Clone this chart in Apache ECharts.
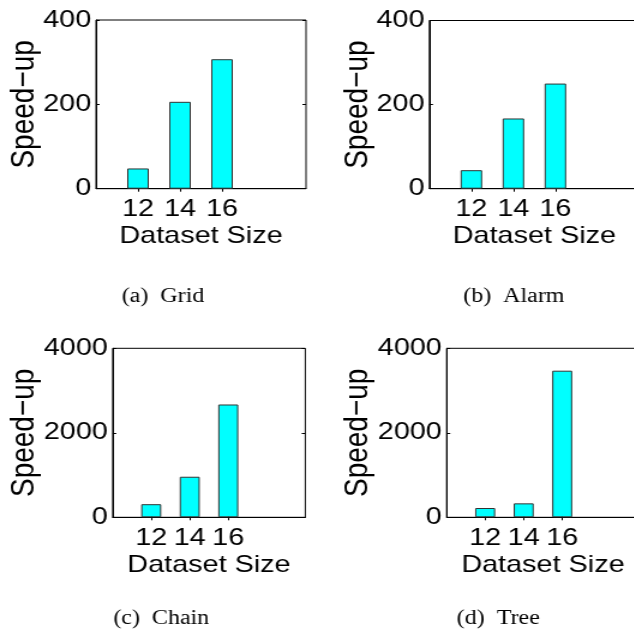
<!DOCTYPE html>
<html>
<head>
<meta charset="utf-8">
<script src="https://cdn.jsdelivr.net/npm/echarts@6/dist/echarts.min.js"></script>
<style>
  html, body { margin: 0; padding: 0; background: #fff; overflow: hidden; }
  /* the figure is drawn narrow and stretched horizontally, like the exported plot */
  #chart { width: 528px; height: 636px; transform: scaleX(1.2); transform-origin: 0 0; }
</style>
</head>
<body>
<div id="chart"></div>
<script>
// Dataset sizes on the x axis
const sizes = [12, 14, 16];
const sizeTicks = [12, 14, 16];

// Speed-up per benchmark network
const gridSpeedup = [48, 206, 307];
const alarmSpeedup = [44, 167, 250];
const chainSpeedup = [310, 960, 2670];
const treeSpeedup = [220, 330, 3470];

// Sub-figure captions
const captionTags = ['(a)', '(b)', '(c)', '(d)'];
const captionNames = ['Grid', 'Alarm', 'Chain', 'Tree'];

const yTicksSmall = [0, 200, 400];
const yTicksLarge = [0, 2000, 4000];

const SANS = 'Liberation Sans';
const SERIF = 'Liberation Serif';
const AXIS_FONT = 24;
const YNAME_FONT = 28;

const panels = [
  { values: gridSpeedup,  yMax: 400,  yStep: 200,  box: { left: 80,    top: 20,   width: 175,   height: 168.7 }, barW: 18,   yGap: 46, cap: [101.4, 287] },
  { values: alarmSpeedup, yMax: 400,  yStep: 200,  box: { left: 357.8, top: 20.5, width: 175,   height: 168.2 }, barW: 18,   yGap: 46, cap: [386,   287] },
  { values: chainSpeedup, yMax: 4000, yStep: 2000, box: { left: 93.9,  top: 348.3,width: 160.5, height: 169 },   barW: 16.7, yGap: 60, cap: [94.4,  609] },
  { values: treeSpeedup,  yMax: 4000, yStep: 2000, box: { left: 372.2, top: 348.3,width: 160.5, height: 169 },   barW: 16.7, yGap: 60, cap: [380.6, 609] }
];

const grids = [], xAxes = [], yAxes = [], series = [], titles = [];

panels.forEach((p, i) => {
  grids.push(Object.assign({ show: true, borderColor: '#000', borderWidth: 1, backgroundColor: '#fff',
    containLabel: false, outerBoundsMode: 'none' }, p.box));

  const xBase = {
    type: 'value', gridIndex: i, min: 10, max: 20, interval: 2,
    splitLine: { show: false }
  };
  // bottom axis with labels
  xAxes.push(Object.assign({}, xBase, {
    position: 'bottom',
    name: 'Dataset Size', nameLocation: 'middle', nameGap: 36, nameMoveOverlap: false,
    nameTextStyle: { fontFamily: SANS, fontSize: AXIS_FONT, color: '#000', verticalAlign: 'top' },
    axisLine: { show: true, lineStyle: { color: '#000', width: 1 } },
    axisTick: { show: true, inside: true, length: 3, customValues: sizeTicks, lineStyle: { color: '#000' } },
    axisLabel: { show: true, customValues: sizeTicks, margin: 9, fontFamily: SANS, fontSize: AXIS_FONT, color: '#000',
      formatter: v => String(v) }
  }));
  // top mirror axis: ticks only
  xAxes.push(Object.assign({}, xBase, {
    position: 'top',
    axisLine: { show: false },
    axisTick: { show: true, inside: true, length: 3, customValues: sizeTicks, lineStyle: { color: '#000' } },
    axisLabel: { show: false }
  }));

  const yTicks = p.yMax === 400 ? yTicksSmall : yTicksLarge;
  const yBase = { type: 'value', gridIndex: i, min: 0, max: p.yMax, interval: p.yStep, splitLine: { show: false } };
  yAxes.push(Object.assign({}, yBase, {
    position: 'left',
    name: 'Speed\u2212up', nameLocation: 'middle', nameGap: p.yGap, nameRotate: 90, nameMoveOverlap: false,
    nameTextStyle: { fontFamily: SANS, fontSize: YNAME_FONT, color: '#000' },
    axisLine: { show: true, lineStyle: { color: '#000', width: 1 } },
    axisTick: { show: true, inside: true, length: 3, customValues: yTicks, lineStyle: { color: '#000' } },
    axisLabel: { show: true, customValues: yTicks, margin: 4, fontFamily: SANS, fontSize: AXIS_FONT, color: '#000',
      formatter: v => String(v) }
  }));
  yAxes.push(Object.assign({}, yBase, {
    position: 'right',
    axisLine: { show: false },
    axisTick: { show: true, inside: true, length: 3, customValues: yTicks, lineStyle: { color: '#000' } },
    axisLabel: { show: false }
  }));

  series.push({
    type: 'bar',
    xAxisIndex: 2 * i, yAxisIndex: 2 * i,
    barWidth: p.barW,
    data: sizes.map((s, k) => [s, p.values[k]]),
    itemStyle: { color: '#00ffff', borderColor: '#333', borderWidth: 1 },
    silent: true, animation: false
  });

  titles.push({
    text: captionTags[i] + '\u2002' + captionNames[i],
    left: p.cap[0], top: p.cap[1], padding: 0,
    textStyle: { fontFamily: SERIF, fontSize: 20, fontWeight: 'normal', color: '#000' }
  });
});

const chart = echarts.init(document.getElementById('chart'), null, { renderer: 'canvas' });
chart.setOption({
  animation: false,
  title: titles,
  grid: grids,
  xAxis: xAxes,
  yAxis: yAxes,
  series: series
});
</script>
</body>
</html>
